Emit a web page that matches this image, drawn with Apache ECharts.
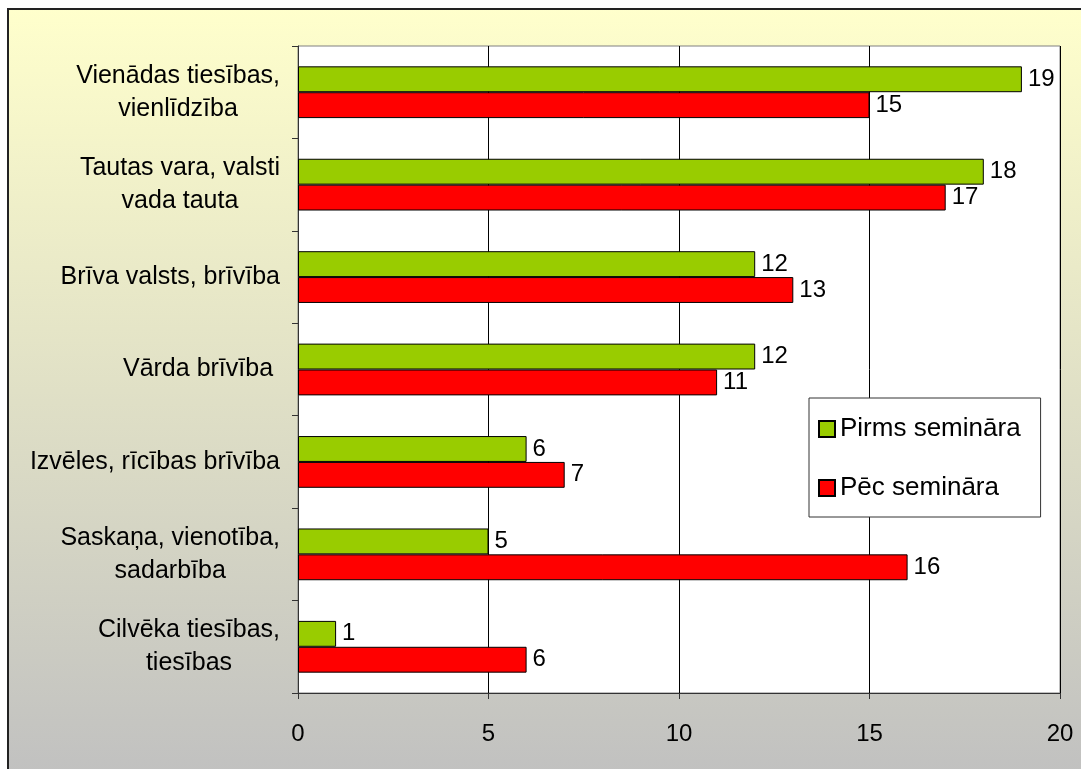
<!DOCTYPE html>
<html>
<head>
<meta charset="utf-8">
<script src="https://cdn.jsdelivr.net/npm/echarts@6/dist/echarts.min.js"></script>
<style>
  html, body { margin: 0; padding: 0; background: #fff; }
  #chart { width: 1081px; height: 769px; }
</style>
</head>
<body>
<div id="chart"></div>
<script>
// kategorijas no augšas uz leju
var categories = [
  'Vienādas tiesības,\nvienlīdzība',
  'Tautas vara, valsti\nvada tauta',
  'Brīva valsts, brīvība',
  'Vārda brīvība ',
  'Izvēles, rīcības brīvība',
  'Saskaņa, vienotība,\nsadarbība',
  'Cilvēka tiesības,\ntiesības'
]
var pirms = [19, 18, 12, 12, 6, 5, 1]
var pec = [15, 17, 13, 11, 7, 16, 6]
var seriesNames = ['Pirms semināra', 'Pēc semināra']
var xTicks = [0, 5, 10, 15, 20]

var FONT = 'Liberation Sans, Arial, sans-serif'
var chart = echarts.init(document.getElementById('chart'))

var option = {
  animation: false,
  textStyle: { fontFamily: FONT },
  graphic: [
    {
      type: 'rect',
      z: -10,
      silent: true,
      shape: { x: 8, y: 9, width: 1100, height: 775 },
      style: {
        fill: new echarts.graphic.LinearGradient(0, 0, 0, 1, [
          { offset: 0, color: '#FFFFCC' },
          { offset: 1, color: '#C0C0C0' }
        ]),
        stroke: '#222',
        lineWidth: 2
      }
    }
  ],
  grid: {
    left: 298,
    top: 46,
    right: 21,
    bottom: 76,
    show: true,
    backgroundColor: '#fff',
    borderColor: '#808080',
    borderWidth: 1
  },
  legend: {
    orient: 'vertical',
    left: 809,
    top: 398,
    padding: [18, 20, 16, 9],
    itemGap: 33,
    itemWidth: 16,
    itemHeight: 16,
    backgroundColor: '#fff',
    borderColor: '#333',
    borderWidth: 1,
    borderRadius: 0,
    icon: 'rect',
    textStyle: { fontSize: 26, color: '#000', fontFamily: FONT },
    data: seriesNames
  },
  xAxis: {
    type: 'value',
    min: 0,
    max: 20,
    interval: 5,
    axisLine: { show: true, lineStyle: { color: '#333', width: 1 } },
    axisTick: { show: true, length: 6, lineStyle: { color: '#333' } },
    axisLabel: {
      margin: 29,
      fontSize: 24,
      color: '#000',
      formatter: function (v) { return xTicks.indexOf(v) >= 0 ? String(v) : '' }
    },
    splitLine: { show: true, lineStyle: { color: '#000', width: 1 } }
  },
  yAxis: {
    type: 'category',
    inverse: true,
    data: categories,
    axisLine: { show: true, lineStyle: { color: '#333', width: 1 } },
    axisTick: { show: true, length: 6, lineStyle: { color: '#333' } },
    axisLabel: {
      margin: 18,
      align: 'right',
      color: '#000',
      fontSize: 25,
      lineHeight: 33,
      formatter: function (v) {
        return v.split('\n').map(function (s) { return '{c|' + s + '}' }).join('\n')
      },
      rich: {
        c: { align: 'center', fontSize: 25, lineHeight: 33, color: '#000', fontFamily: FONT }
      }
    }
  },
  series: [
    {
      name: seriesNames[0],
      type: 'bar',
      data: pirms,
      barGap: '0%',
      barCategoryGap: '44%',
      itemStyle: { color: '#99CC00', borderColor: '#000', borderWidth: 1 },
      label: { show: true, position: 'right', distance: 6, fontSize: 24, color: '#000', fontFamily: FONT }
    },
    {
      name: seriesNames[1],
      type: 'bar',
      data: pec,
      barGap: '0%',
      barCategoryGap: '44%',
      itemStyle: { color: '#FF0000', borderColor: '#000', borderWidth: 1 },
      label: { show: true, position: 'right', distance: 6, fontSize: 24, color: '#000', fontFamily: FONT }
    }
  ]
}

chart.setOption(option)
</script>
</body>
</html>
